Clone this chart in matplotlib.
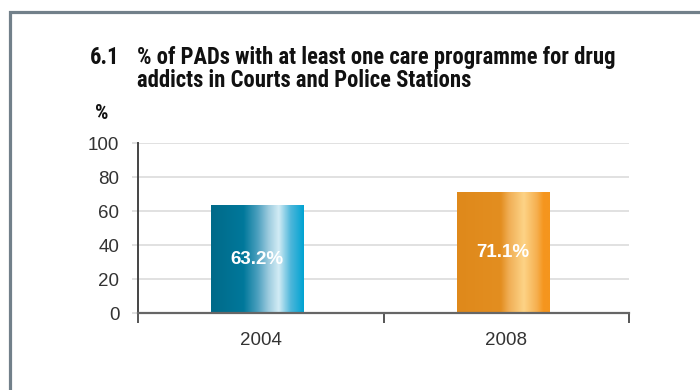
import matplotlib
matplotlib.use("Agg")
import matplotlib.pyplot as plt
import numpy as np
from matplotlib import font_manager
from matplotlib.colors import LinearSegmentedColormap
from matplotlib.patches import Rectangle

# ---- data ----
years = ["2004", "2008"]
values = [63.2, 71.1]
value_labels = ["63.2%", "71.1%"]
yticks = [0, 20, 40, 60, 80, 100]
title_num = "6.1"
title_lines = ["% of PADs with at least one care programme for drug",
               "addicts in Courts and Police Stations"]
y_unit = "%"

# gradient stops
teal_stops = [(0.0, "#006a89"), (0.35, "#00789b"), (0.5, "#4a9fbe"),
              (0.62, "#9ccbde"), (0.73, "#d2ecf5"), (0.86, "#4db6da"),
              (1.0, "#00a3d2")]
orange_stops = [(0.0, "#df891b"), (0.47, "#e38e20"), (0.56, "#f0ae55"),
                (0.72, "#fdd386"), (0.86, "#f6b050"), (0.93, "#f5961f"),
                (1.0, "#f5951d")]


def pick_font(cands):
    for c in cands:
        try:
            font_manager.findfont(font_manager.FontProperties(family=c),
                                  fallback_to_default=False)
            return c
        except Exception:
            continue
    return "DejaVu Sans"


body_font = pick_font(["Liberation Sans", "Arial", "DejaVu Sans"])
title_font = pick_font(["Liberation Sans Narrow", "Roboto Condensed",
                        "DejaVu Sans Condensed", "Liberation Sans"])

plt.rcParams["font.family"] = [body_font, "DejaVu Sans"]

W, H = 700, 390
fig = plt.figure(figsize=(7, 3.9), dpi=100)
fig.patch.set_facecolor("white")

def fx(px):
    return px / W

def fy(py):
    return 1 - py / H

ax = fig.add_axes([fx(138), fy(313), fx(629) - fx(138), fy(143) - fy(313)])

x = np.arange(len(years))
bar_w = 0.375
bars = ax.bar(x - 0.015, values, width=bar_w, color="none", edgecolor="none",
              zorder=3)

cmaps = [LinearSegmentedColormap.from_list("teal", teal_stops),
         LinearSegmentedColormap.from_list("orange", orange_stops)]
grad = np.linspace(0, 1, 256).reshape(1, -1)
for b, cm in zip(bars, cmaps):
    x0, w, h = b.get_x(), b.get_width(), b.get_height()
    ax.imshow(grad, cmap=cm, aspect="auto", extent=(x0, x0 + w, 0, h),
              zorder=3, interpolation="bilinear")

for b, lab in zip(bars, value_labels):
    ax.text(b.get_x() + b.get_width() / 2, b.get_height() / 2, lab,
            ha="center", va="center", color="white", fontsize=13.5,
            fontweight="bold", zorder=5)

ax.set_xlim(-0.5, len(years) - 0.5)
ax.set_ylim(0, 100)
ax.set_yticks(yticks)
ax.set_yticklabels([str(v) for v in yticks])
ax.yaxis.grid(True, color="#dedede", linewidth=1.3, zorder=0)
ax.set_axisbelow(True)

ax.set_xticks(x)
ax.set_xticklabels(years)
ax.set_xticks(np.arange(len(years) + 1) - 0.5, minor=True)
ax.tick_params(axis="x", which="major", length=0, pad=14, labelsize=13.5,
               labelcolor="#333333")
ax.tick_params(axis="x", which="minor", length=7.5, width=1.4,
               color="#555555", direction="out")
ax.tick_params(axis="y", length=4.5, width=1.3, color="#dedede", pad=9,
               labelsize=13.5, labelcolor="#333333")
ax.yaxis.get_major_ticks()[0].tick1line.set_color("#666666")

for s in ["top", "right"]:
    ax.spines[s].set_visible(False)
ax.spines["left"].set_color("#444444")
ax.spines["left"].set_linewidth(1.4)
ax.spines["bottom"].set_color("#666666")
ax.spines["bottom"].set_linewidth(1.6)
ax.spines["left"].set_zorder(4)
ax.spines["bottom"].set_zorder(4)
ax.set_xlim(-0.5, len(years) - 0.5)

# frame border
fig.patches.append(Rectangle((fx(9.5), -0.2), 1.5, fy(11.5) + 0.2,
                             transform=fig.transFigure, fill=False,
                             edgecolor="#72808a", linewidth=2.3))

# title
tfam = [title_font, "DejaVu Sans"]
tn = fig.text(fx(90), fy(64), title_num, fontsize=15, fontweight="bold",
              family=tfam, color="#111111", va="baseline")
t1 = fig.text(fx(137), fy(64), title_lines[0], fontsize=15, fontweight="bold",
              family=tfam, color="#111111", va="baseline")
t2 = fig.text(fx(137), fy(87), title_lines[1], fontsize=15, fontweight="bold",
              family=tfam, color="#111111", va="baseline")
tu = fig.text(fx(95), fy(119), y_unit, fontsize=14, fontweight="bold",
              family=tfam, color="#111111", va="baseline")

# fit title width to ~478 px
fig.canvas.draw()
r = fig.canvas.get_renderer()
w1 = t1.get_window_extent(r).width
scale = 478.0 / w1
if abs(scale - 1) > 0.03:
    for t in (tn, t1, t2):
        t.set_fontsize(15 * scale)
    tu.set_fontsize(14 * scale)

fig.savefig("out.png", dpi=100, facecolor="white")
